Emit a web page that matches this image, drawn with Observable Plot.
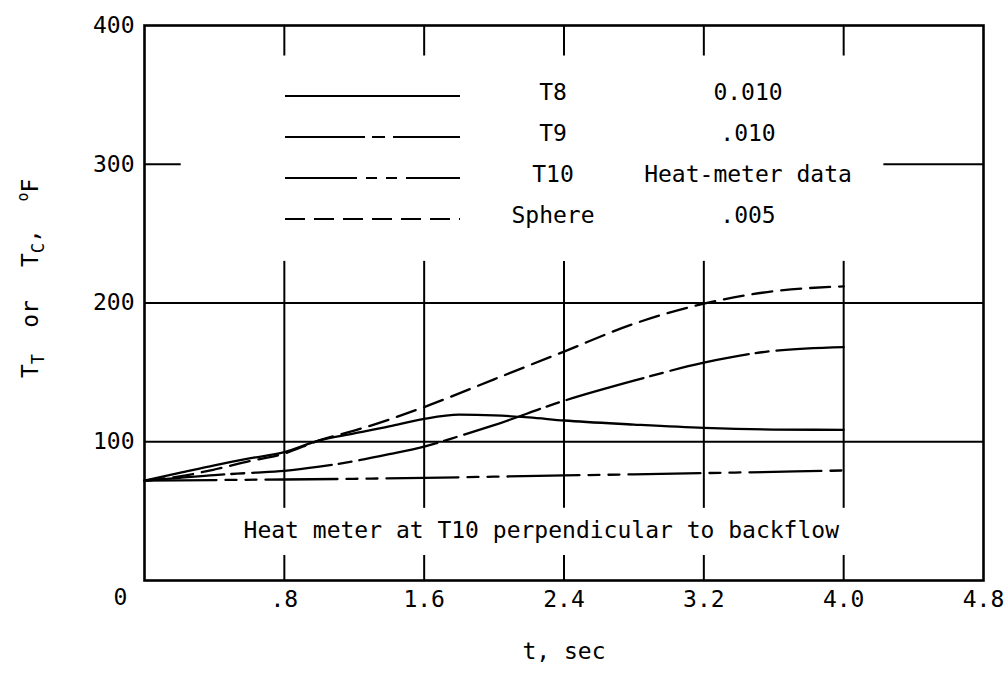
<!DOCTYPE html>
<html><head><meta charset="utf-8">
<script src="https://cdn.jsdelivr.net/npm/d3@7"></script>
<script src="https://cdn.jsdelivr.net/npm/@observablehq/plot@0.6"></script>
<style>
html,body{margin:0;padding:0;background:#fff;}
#chart{width:1008px;height:673px;}
</style>
</head><body><div id="chart"></div>
<script>
// ---- data ----
const t8Time   = [0,0.2,0.4,0.6,0.8,1.0,1.2,1.4,1.6,1.8,2.0,2.2,2.4,2.8,3.2,3.6,4.0];
const t8Temp   = [72,77.5,83,88,92.5,101,106,111,116.5,119.5,119,117.5,115.3,112.4,110,108.8,108.6];
const t9Time   = [0,0.2,0.4,0.6,0.8,1.0,1.2,1.4,1.6,1.8,2.0,2.4,2.8,3.2,3.6,4.0];
const t9Temp   = [72,74,76,77.5,79,82,86,91,96.5,104,112,129.5,144,157,165.5,168.2];
const t10Time  = [0,0.4,0.8,1.2,1.6,2.0,2.4,2.8,3.2,3.6,4.0];
const t10Temp  = [72,72.4,72.8,73.3,74,74.8,75.7,76.5,77.4,78.3,79.3];
const sphTime  = [0,0.2,0.4,0.6,0.8,1.0,1.2,1.4,1.6,2.0,2.4,2.8,3.2,3.6,4.0];
const sphTemp  = [72,75,80,86,91.5,101,108,116,125,145,165,185,199.5,208.5,212];

const seriesNames  = ["T8","T9","T10","Sphere"];
const seriesValues = ["0.010",".010","Heat-meter data",".005"];
const seriesDash   = ["none","80,7,13,8","72,9,11,9,11,9","20,9"];

const xTicks      = [0.8,1.6,2.4,3.2,4.0,4.8];
const xTickLabels = [".8","1.6","2.4","3.2","4.0","4.8"];
const yTicks      = [100,200,300,400];
const yTickLabels = ["100","200","300","400"];
const xTitle = "t, sec";
const note = "Heat meter at T10 perpendicular to backflow";

// grid segments (broken around the legend and the note)
const vGridX = [0.8,1.6,2.4,3.2,4.0];
const vGridSpans = [[0,18],[52,230],[378,400]];
const hGrid = [{y:100,x1:0,x2:4.8},{y:200,x1:0,x2:4.8},{y:300,x1:0,x2:0.21},{y:300,x1:4.23,x2:4.8}];

// ---- build tables ----
const mk = (name, ts, vs) => ts.map((t,i)=>({series:name,t,v:vs[i]}));
const lines = [mk("T8",t8Time,t8Temp), mk("T9",t9Time,t9Temp), mk("T10",t10Time,t10Temp), mk("Sphere",sphTime,sphTemp)];
const vSegs = vGridX.flatMap(x => vGridSpans.map(([a,b])=>({x,y1:a,y2:b})));

const FONT = "'DejaVu Sans Mono','Liberation Mono',monospace";
const FS = 23;

function legendMark(index, scales, values, dims) {
  const g = d3.create("svg:g").attr("font-family", FONT).attr("font-size", FS).attr("fill","#000");
  seriesNames.forEach((name,i) => {
    const y = 96 + i*41;
    g.append("line").attr("x1",285).attr("x2",460).attr("y1",y).attr("y2",y)
      .attr("stroke","#000").attr("stroke-width",2)
      .attr("stroke-dasharray", seriesDash[i]==="none"?null:seriesDash[i]);
    g.append("text").attr("x",553).attr("y",y-3).attr("text-anchor","middle")
      .attr("dominant-baseline","middle").text(name);
    g.append("text").attr("x",748).attr("y",y-3).attr("text-anchor","middle")
      .attr("dominant-baseline","middle").text(seriesValues[i]);
  });
  return g.node();
}

function yLabelMark(index, scales, values, dims) {
  const g = d3.create("svg:g").attr("transform","translate(38,366) rotate(-90)")
    .attr("font-family", FONT).attr("fill","#000");
  const t = g.append("text").attr("font-size", FS);
  t.append("tspan").attr("x",0).text("T");
  t.append("tspan").attr("font-size",17).attr("dy",6).text("T");
  t.append("tspan").attr("x",52).attr("dy",-6).text("or");
  t.append("tspan").attr("x",118).text("T");
  t.append("tspan").attr("font-size",17).attr("dy",6).text("C");
  t.append("tspan").attr("dy",-6).text(",");
  t.append("tspan").attr("x",176).attr("font-size",15).attr("dy",-10).text("o");
  t.append("tspan").attr("dy",10).text("F");
  return g.node();
}

const chart = Plot.plot({
  width: 1008, height: 673,
  marginLeft: 144, marginRight: 25, marginTop: 25, marginBottom: 93,
  x: {domain:[0,4.8]},
  y: {domain:[0,400]},
  style: {fontFamily: FONT, fontSize: FS+"px", color:"#000", background:"#fff", overflow:"visible"},
  marks: [
    Plot.ruleX(vSegs, {x:"x", y1:"y1", y2:"y2", stroke:"#000", strokeWidth:2}),
    Plot.ruleY(hGrid, {y:"y", x1:"x1", x2:"x2", stroke:"#000", strokeWidth:2}),
    ...lines.map((d,i) => Plot.line(d, {x:"t", y:"v", curve:"monotone-x", stroke:"#000", strokeWidth:2.3,
        strokeDasharray: seriesDash[i]==="none"?undefined:seriesDash[i]})),
    Plot.frame({stroke:"#000", strokeWidth:2.6}),
    Plot.axisX(xTicks, {tickSize:0, tickPadding:10, tickFormat:(d,i)=>xTickLabels[i], label:null, fontSize:FS}),
    Plot.axisY(yTicks, {tickSize:0, tickPadding:10, tickFormat:(d,i)=>yTickLabels[i], label:null, fontSize:FS}),
    Plot.text(["0"], {x:()=>0, y:()=>0, text:d=>d, dx:-24, dy:17, fontSize:FS}),
    Plot.text([xTitle], {frameAnchor:"bottom", dy:78, text:d=>d, fontSize:FS}),
    Plot.text([note], {x:()=>2.27, y:()=>36, text:d=>d, fontSize:FS}),
    legendMark,
    yLabelMark
  ]
});
document.getElementById("chart").appendChild(chart);
</script>
</body></html>
